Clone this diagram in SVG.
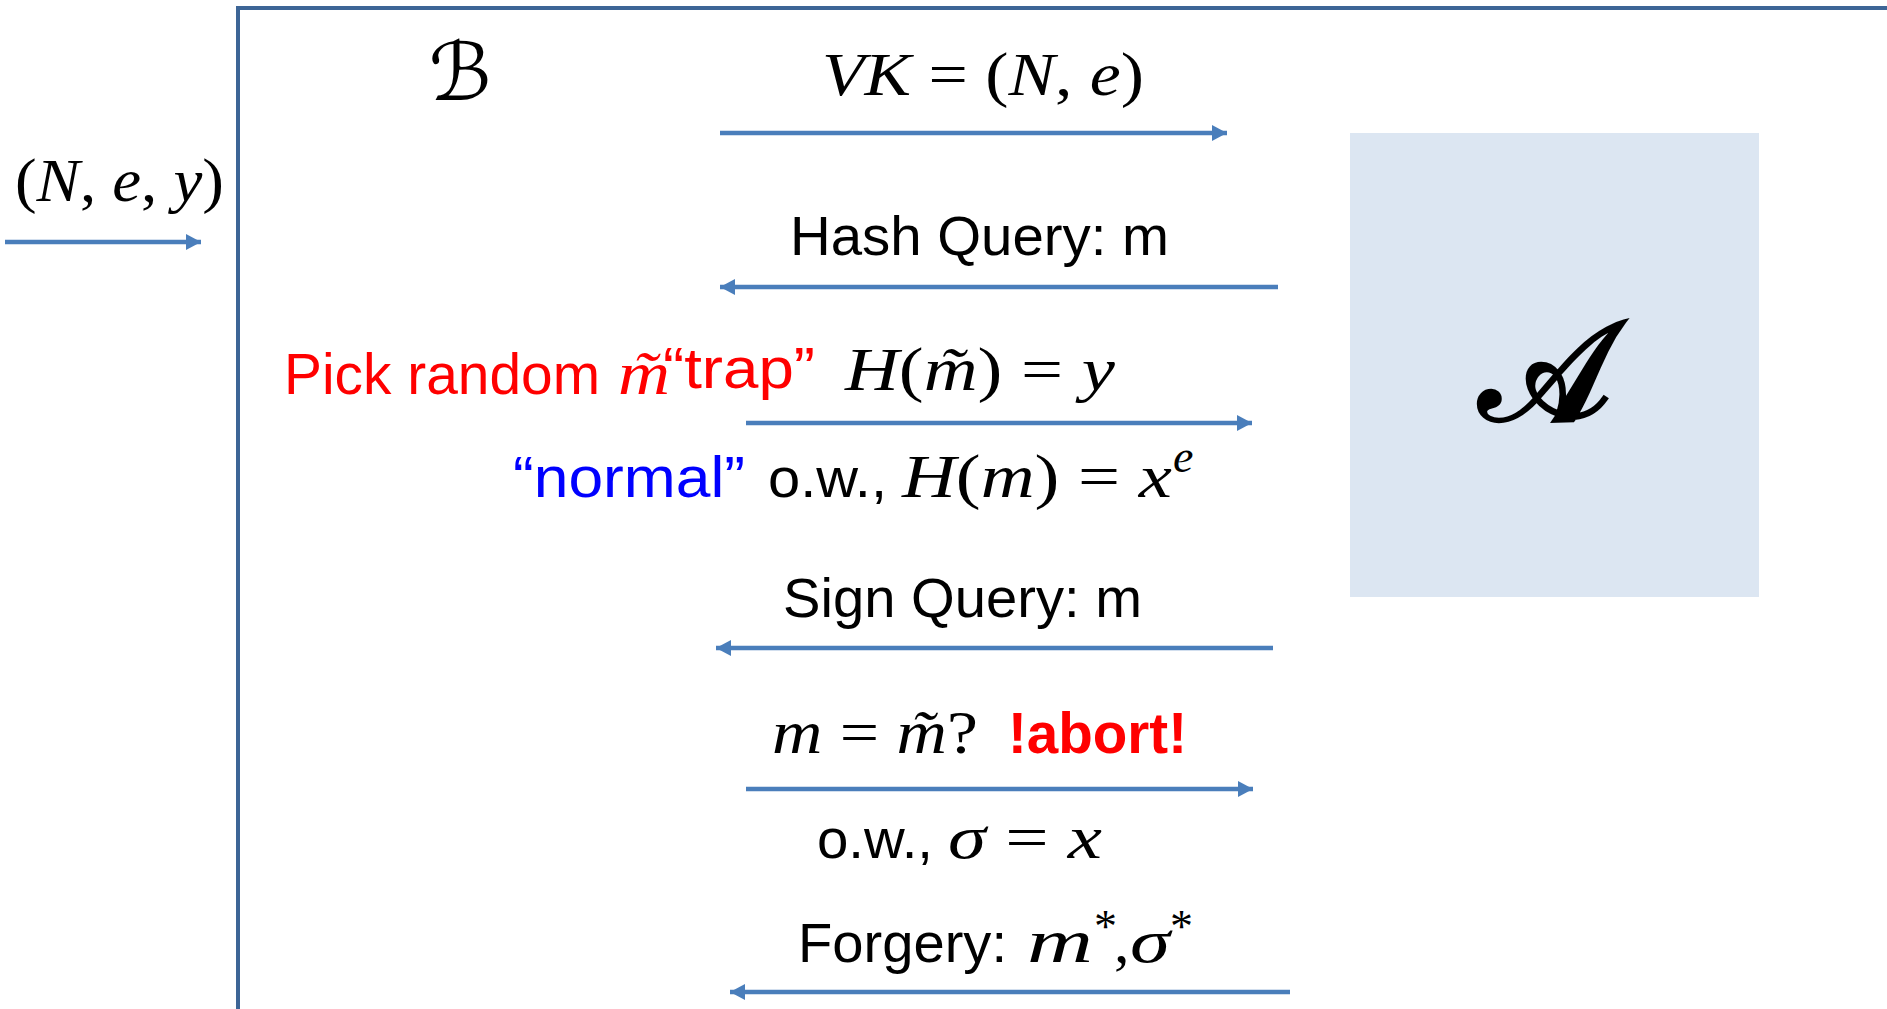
<svg xmlns="http://www.w3.org/2000/svg" width="1887" height="1009" viewBox="0 0 1887 1009">
<defs>
<style>
.sans{font-family:"Liberation Sans",Arial,sans-serif;font-size:56px;fill:#000}
.math{font-family:"Liberation Serif","Times New Roman",serif;font-size:62px;font-style:italic;fill:#000}
.up{font-style:normal}
.red{fill:#ff0000}
.blue{fill:#0000ff}
.conn{stroke:#4a7ebb;stroke-width:4.5;fill:none}
</style>
<marker id="ah" markerUnits="userSpaceOnUse" markerWidth="16" markerHeight="16" refX="15" refY="8" orient="auto">
<path d="M0,0 L15,8 L0,16 z" fill="#4a7ebb"/>
</marker>
</defs>
<rect width="1887" height="1009" fill="#ffffff"/>

<g id="reduction-B">
<path d="M238,1009 V8 H1887" fill="none" stroke="#3d6596" stroke-width="4"/>
<text x="460" y="100" text-anchor="middle" style="font-family:'DejaVu Serif','DejaVu Sans',serif;font-size:80px;fill:#000">ℬ</text>
</g>

<g id="adversary-A">
<rect x="1350" y="133" width="409" height="464" fill="#dce6f2"/>
<text x="1545" y="420" text-anchor="middle" style="font-family:'DejaVu Serif','DejaVu Sans','Noto Sans',serif;font-size:140px;font-weight:bold;fill:#000">𝒜</text>
</g>

<g id="input-label">
<text class="math" x="15" y="201" textLength="209" lengthAdjust="spacingAndGlyphs"><tspan class="up">(</tspan>N<tspan class="up">, </tspan>e<tspan class="up">, </tspan>y<tspan class="up">)</tspan></text>
</g>

<g id="msg-vk">
<text class="math" x="822" y="95" textLength="322" lengthAdjust="spacingAndGlyphs">VK <tspan class="up">= (</tspan>N<tspan class="up">, </tspan>e<tspan class="up">)</tspan></text>
</g>

<g id="msg-hash-query">
<text class="sans" x="790" y="255" textLength="379" lengthAdjust="spacingAndGlyphs">Hash Query: m</text>
</g>

<g id="msg-hash-answer">
<text class="sans red" x="284" y="394" textLength="316" lengthAdjust="spacingAndGlyphs" style="font-size:57px">Pick random</text>
<text class="math red" x="618" y="394" textLength="52" lengthAdjust="spacingAndGlyphs">m̃</text>
<text class="sans red" x="663" y="388" textLength="152" lengthAdjust="spacingAndGlyphs" style="font-size:57px">“trap”</text>
<text class="math" x="845" y="390" textLength="270" lengthAdjust="spacingAndGlyphs">H<tspan class="up">(</tspan>m̃<tspan class="up">) = </tspan>y</text>
<text class="sans blue" x="513" y="497" textLength="232" lengthAdjust="spacingAndGlyphs" style="font-size:57px">“normal”</text>
<text class="sans" x="768" y="497" textLength="119" lengthAdjust="spacingAndGlyphs">o.w.,</text>
<text class="math" x="902" y="497" textLength="270" lengthAdjust="spacingAndGlyphs">H<tspan class="up">(</tspan>m<tspan class="up">) = </tspan>x</text>
<text class="math" x="1173" y="472" style="font-size:46px">e</text>
</g>

<g id="msg-sign-query">
<text class="sans" x="783" y="617" textLength="359" lengthAdjust="spacingAndGlyphs">Sign Query: m</text>
</g>

<g id="msg-sign-answer">
<text class="math" x="772" y="753" textLength="206" lengthAdjust="spacingAndGlyphs">m<tspan class="up"> = </tspan>m̃<tspan class="up">?</tspan></text>
<text class="sans red" x="1008" y="753" textLength="179" lengthAdjust="spacingAndGlyphs" style="font-weight:bold;font-size:57px">!abort!</text>
<text class="sans" x="817" y="858" textLength="116" lengthAdjust="spacingAndGlyphs">o.w.,</text>
<text class="math" x="948" y="858" textLength="154" lengthAdjust="spacingAndGlyphs">σ<tspan class="up"> = </tspan>x</text>
</g>

<g id="msg-forgery">
<text class="sans" x="798" y="962" textLength="209" lengthAdjust="spacingAndGlyphs">Forgery:</text>
<text class="math" x="1027" y="962" textLength="66" lengthAdjust="spacingAndGlyphs">m</text>
<text class="math up" x="1094" y="942" style="font-size:46px">*</text>
<text class="math up" x="1114" y="962">,</text>
<text class="math" x="1130" y="962" textLength="40" lengthAdjust="spacingAndGlyphs">σ</text>
<text class="math up" x="1170" y="942" style="font-size:46px">*</text>
</g>

<g id="connectors">
<line class="conn" x1="5" y1="242" x2="201" y2="242" marker-end="url(#ah)"/>
<line class="conn" x1="720" y1="133" x2="1227" y2="133" marker-end="url(#ah)"/>
<line class="conn" x1="1278" y1="287" x2="720" y2="287" marker-end="url(#ah)"/>
<line class="conn" x1="746" y1="423" x2="1252" y2="423" marker-end="url(#ah)"/>
<line class="conn" x1="1273" y1="648" x2="716" y2="648" marker-end="url(#ah)"/>
<line class="conn" x1="746" y1="789" x2="1253" y2="789" marker-end="url(#ah)"/>
<line class="conn" x1="1290" y1="992" x2="730" y2="992" marker-end="url(#ah)"/>
</g>
</svg>
